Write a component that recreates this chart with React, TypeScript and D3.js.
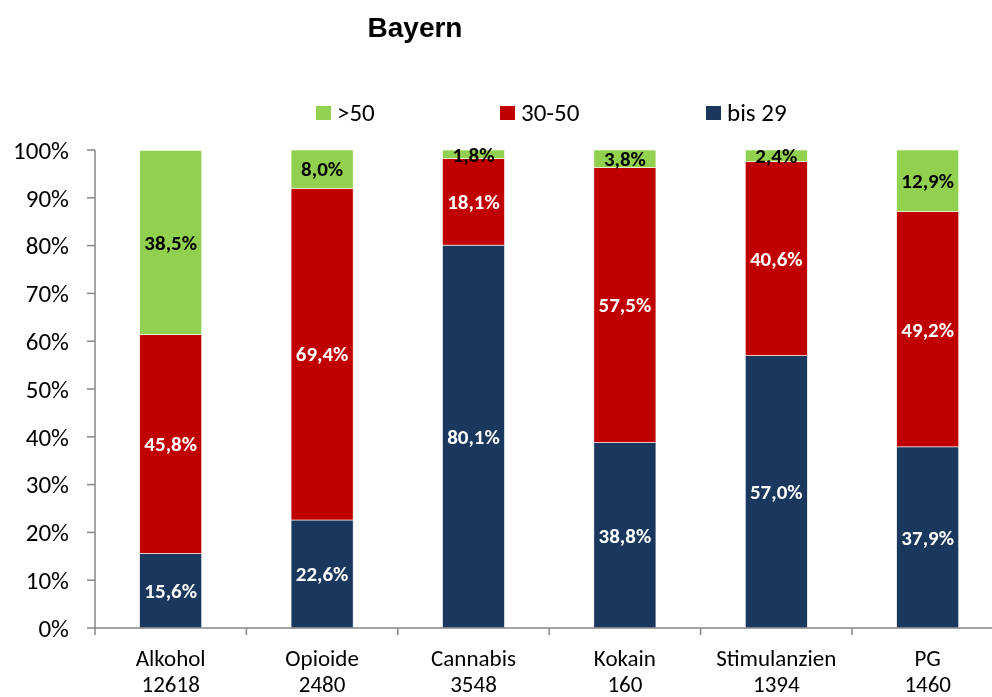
import React, { useEffect, useRef } from "react";
import * as d3 from "d3";

const categories = ["Alkohol", "Opioide", "Cannabis", "Kokain", "Stimulanzien", "PG"];
const counts = ["12618", "2480", "3548", "160", "1394", "1460"];
const seriesNames = ["bis 29", "30-50", ">50"];
const bis29 = [15.6, 22.6, 80.1, 38.8, 57.0, 37.9];
const mid3050 = [45.8, 69.4, 18.1, 57.5, 40.6, 49.2];
const over50 = [38.5, 8.0, 1.8, 3.8, 2.4, 12.9];
const yTicks = [0, 10, 20, 30, 40, 50, 60, 70, 80, 90, 100];

const colors = ["#1A375E", "#C00000", "#92D050"];
const labelColors = ["#fff", "#fff", "#000"];
const font = "Carlito, Calibri, 'Open Sans', sans-serif";

export default function App() {
  const svgRef = useRef(null);
  const width = 992;
  const height = 697;

  useEffect(() => {
    const svg = d3.select(svgRef.current);
    svg.selectAll("*").remove();

    const left = 95;
    const top = 150;
    const bottom = 628;
    const band = 151.4;

    const x = d3
      .scaleBand()
      .domain(categories)
      .range([left, left + band * categories.length])
      .paddingInner(0.59)
      .paddingOuter(0.295);
    const y = d3.scaleLinear().domain([0, 100]).range([bottom, top]);

    svg
      .append("text")
      .attr("x", 415)
      .attr("y", 37)
      .attr("text-anchor", "middle")
      .attr("font-family", "Arial, 'Liberation Sans', sans-serif")
      .attr("font-weight", "bold")
      .attr("font-size", 28)
      .text("Bayern");

    // legend
    const legendItems = [
      { name: seriesNames[2], color: colors[2], x: 316 },
      { name: seriesNames[1], color: colors[1], x: 500 },
      { name: seriesNames[0], color: colors[0], x: 706 },
    ];
    const lg = svg.append("g");
    legendItems.forEach((it) => {
      lg.append("rect")
        .attr("x", it.x)
        .attr("y", 106)
        .attr("width", 15)
        .attr("height", 14)
        .attr("fill", it.color);
      lg.append("text")
        .attr("x", it.x + 21)
        .attr("y", 121)
        .attr("font-family", font)
        .attr("font-size", 25)
        .text(it.name);
    });

    const table = categories.map((c, i) => ({
      cat: c,
      s0: bis29[i],
      s1: mid3050[i],
      s2: over50[i],
    }));
    const stack = d3.stack<any>().keys(["s0", "s1", "s2"]);
    const layers = stack(table);

    layers.forEach((layer, li) => {
      const g = svg.append("g");
      g.selectAll("rect")
        .data(layer)
        .enter()
        .append("rect")
        .attr("x", (d) => x(d.data.cat)!)
        .attr("width", x.bandwidth())
        .attr("y", (d) => y(Math.min(100, d[1])))
        .attr("height", (d) => y(d[0]) - y(Math.min(100, d[1])))
        .attr("fill", colors[li])
        .attr("stroke", "#fff")
        .attr("stroke-width", 0.6);
      g.selectAll("text")
        .data(layer)
        .enter()
        .append("text")
        .attr("x", (d) => x(d.data.cat)! + x.bandwidth() / 2)
        .attr("y", (d) => (y(d[0]) + y(Math.min(100, d[1]))) / 2)
        .attr("dy", "0.35em")
        .attr("text-anchor", "middle")
        .attr("font-family", font)
        .attr("font-weight", "bold")
        .attr("font-size", 21)
        .attr("fill", labelColors[li])
        .text((d) => (d[1] - d[0]).toFixed(1).replace(".", ",") + "%");
    });

    // y axis
    const ya = svg.append("g");
    ya.append("line")
      .attr("x1", left)
      .attr("x2", left)
      .attr("y1", top)
      .attr("y2", bottom)
      .attr("stroke", "#868686")
      .attr("stroke-width", 1.5);
    yTicks.forEach((t) => {
      ya.append("line")
        .attr("x1", left - 8)
        .attr("x2", left)
        .attr("y1", y(t))
        .attr("y2", y(t))
        .attr("stroke", "#868686")
        .attr("stroke-width", 1.5);
      ya.append("text")
        .attr("x", 69)
        .attr("y", y(t))
        .attr("dy", "0.35em")
        .attr("text-anchor", "end")
        .attr("font-family", font)
        .attr("font-size", 25)
        .attr("fill", "#000")
        .text(t + "%");
    });

    // x axis
    const xa = svg.append("g");
    xa.append("line")
      .attr("x1", left)
      .attr("x2", width)
      .attr("y1", bottom)
      .attr("y2", bottom)
      .attr("stroke", "#868686")
      .attr("stroke-width", 1.5);
    categories.forEach((c, i) => {
      const tx = left + band * i;
      xa.append("line")
        .attr("x1", tx)
        .attr("x2", tx)
        .attr("y1", bottom)
        .attr("y2", bottom + 7)
        .attr("stroke", "#868686")
        .attr("stroke-width", 1.5);
      const cx = x(c)! + x.bandwidth() / 2;
      xa.append("text")
        .attr("x", cx)
        .attr("y", 666)
        .attr("text-anchor", "middle")
        .attr("font-family", font)
        .attr("font-size", 23)
        .text(c);
      xa.append("text")
        .attr("x", cx)
        .attr("y", 692)
        .attr("text-anchor", "middle")
        .attr("font-family", font)
        .attr("font-size", 23)
        .text(counts[i]);
    });
  }, []);

  return (
    <div style={{ position: "fixed", left: 0, top: 0 }}>
      <svg ref={svgRef} width={width} height={height} />
    </div>
  );
}
